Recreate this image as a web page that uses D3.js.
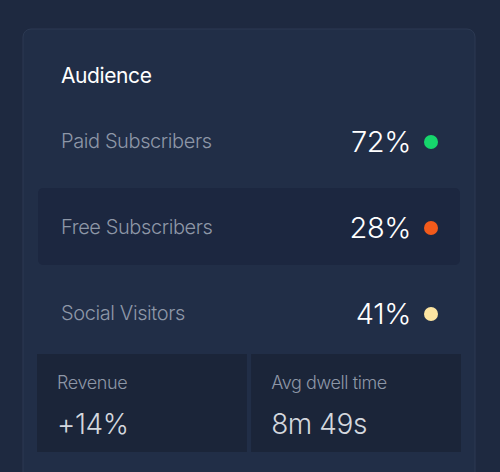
<!DOCTYPE html>
<html><head><meta charset="utf-8">
<script src="https://cdn.jsdelivr.net/npm/d3@7"></script>
<style>body{margin:0;background:#1e2940;}svg{display:block;font-family:Inter,"Noto Sans",sans-serif;font-weight:300;letter-spacing:-0.4px;}</style>
</head><body><svg id="c" width="500" height="472"></svg>
<script>
"use strict";

var segments = ["Paid Subscribers", "Free Subscribers", "Social Visitors"];
var shares = [72, 28, 41];
var dotColors = ["#16d66c", "#f25a1b", "#fde5a2"];
var tileLabels = ["Revenue", "Avg dwell time"];
var tileValues = ["+14%", "8m 49s"];

var svg = d3.select("#c");

svg.append("rect").attr("x", 23).attr("y", 29).attr("width", 452).attr("height", 460)
    .attr("rx", 8).attr("fill", "#212e47").attr("stroke", "#2c3952");

svg.append("text").attr("x", 61).attr("y", 83).attr("fill", "#ffffff")
    .attr("font-size", 21).attr("font-weight", 400).text("Audience");

var y = d3.scalePoint().domain(segments).range([140, 312]);

var rows = svg.selectAll("g.row").data(segments).enter().append("g")
    .attr("class", "row")
    .attr("transform", function(d) { return "translate(0," + y(d) + ")"; });

rows.filter(function(d, i) { return i === 1; }).append("rect")
    .attr("x", 38).attr("y", -38).attr("width", 422).attr("height", 77)
    .attr("rx", 5).attr("fill", "#1c2740");

rows.append("text").attr("x", 61).attr("y", 8).attr("fill", "#8e97a7")
    .attr("font-size", 20).text(function(d) { return d; });

rows.append("text").attr("x", 411).attr("y", 12).attr("fill", "#ffffff")
    .attr("text-anchor", "end").attr("font-size", 29)
    .text(function(d, i) { return shares[i] + "%"; });

rows.append("circle").attr("cx", 431).attr("cy", 2).attr("r", 7)
    .attr("fill", function(d, i) { return dotColors[i]; });

var x = d3.scaleBand().domain(tileLabels).range([37, 461]).paddingInner(0.02);

var tiles = svg.selectAll("g.tile").data(tileLabels).enter().append("g")
    .attr("class", "tile")
    .attr("transform", function(d) { return "translate(" + x(d) + ",354)"; });

tiles.append("rect").attr("width", x.bandwidth()).attr("height", 98)
    .attr("fill", "#1b2539");

tiles.append("text").attr("x", 20).attr("y", 35).attr("fill", "#8e97a7")
    .attr("font-size", 18).text(function(d) { return d; });

tiles.append("text").attr("x", 20).attr("y", 80).attr("fill", "#d3d7de")
    .attr("font-size", 28).text(function(d, i) { return tileValues[i]; });
</script></body></html>
